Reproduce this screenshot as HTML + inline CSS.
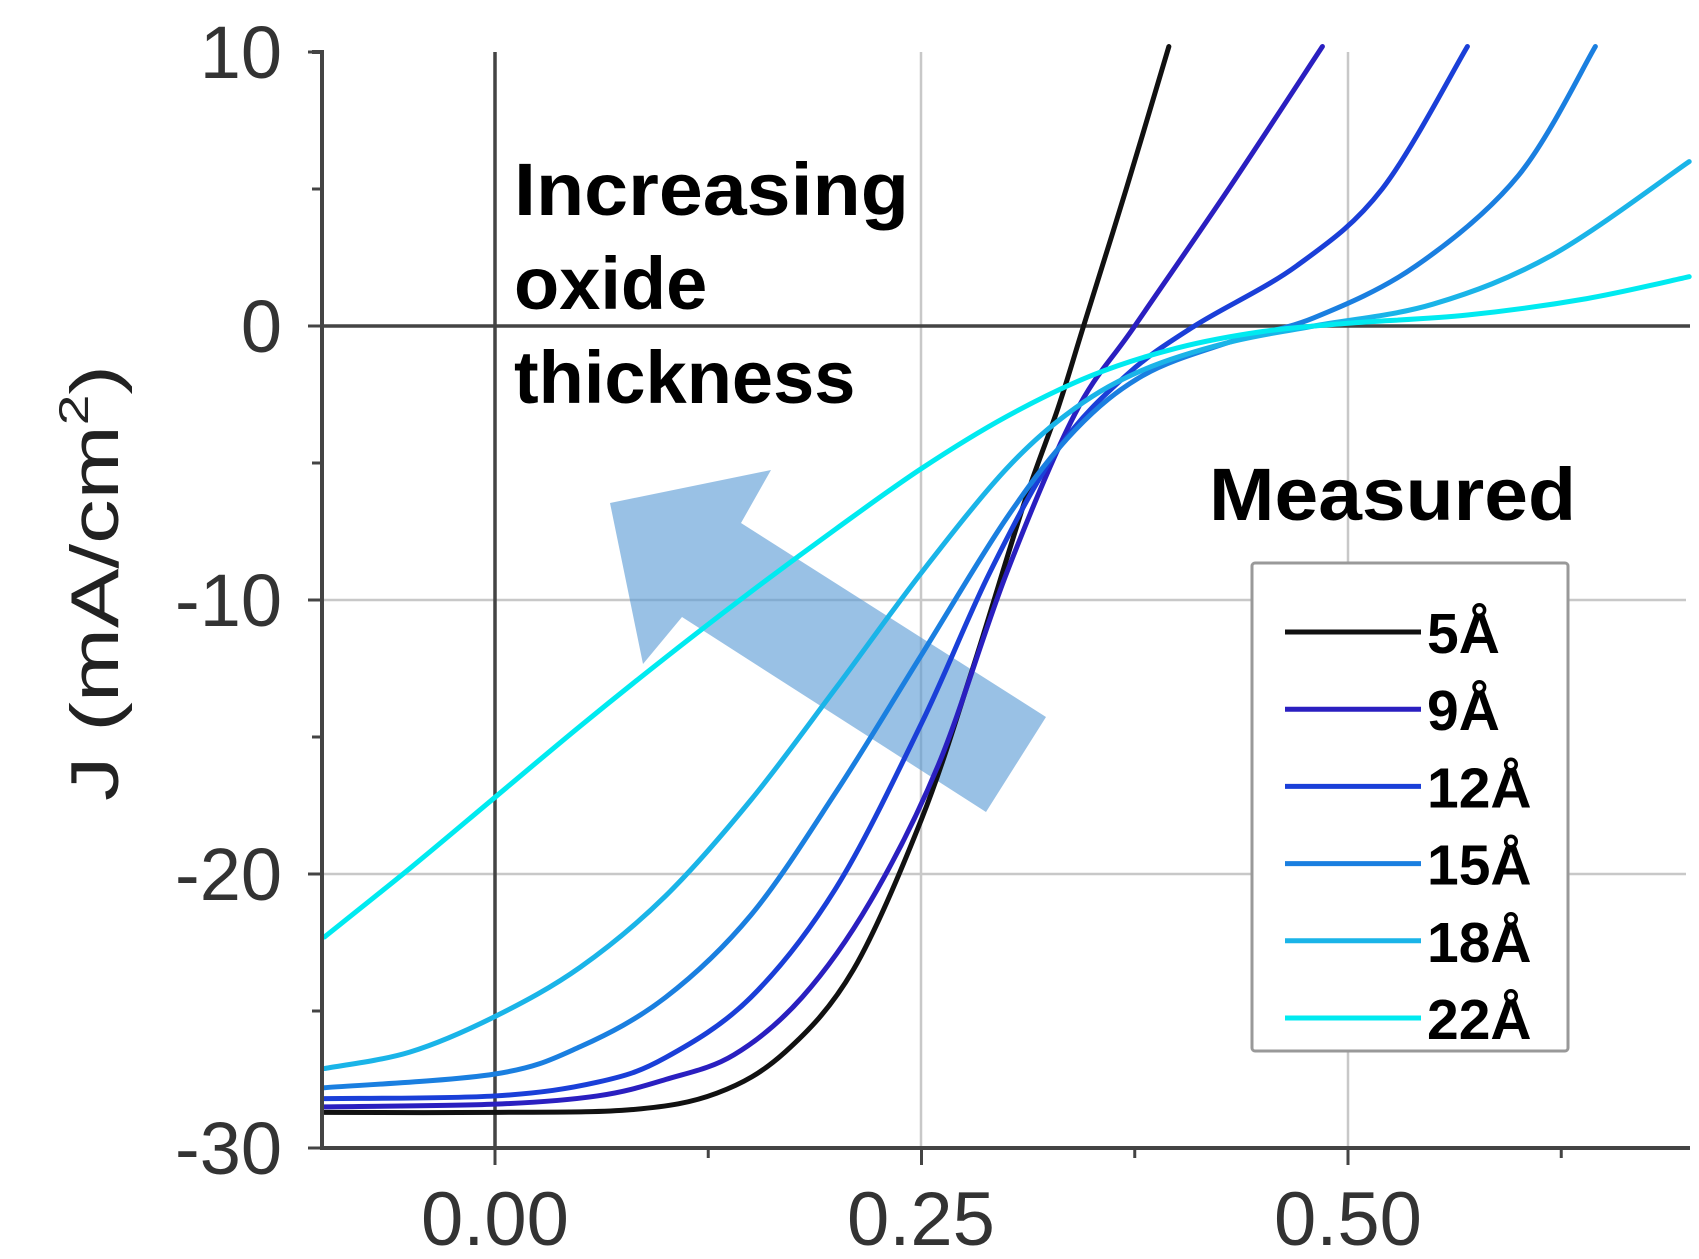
<!DOCTYPE html>
<html><head><meta charset="utf-8"><style>
html,body{margin:0;padding:0;background:#fff;}
svg{display:block;}
</style></head><body>
<svg id="s" width="1699" height="1259" viewBox="0 0 1699 1259" xmlns="http://www.w3.org/2000/svg" font-family="Liberation Sans, sans-serif">
<rect width="1699" height="1259" fill="#fff"/>
<g id="grid" stroke="#c8c8c8" stroke-width="2.5">
<line x1="921" y1="52" x2="921" y2="1148"/>
<line x1="1348" y1="52" x2="1348" y2="1148"/>
<line x1="322" y1="600" x2="1686" y2="600"/>
<line x1="322" y1="874" x2="1686" y2="874"/>
</g>
<g stroke="#444" stroke-width="3.5">
<line x1="495" y1="52" x2="495" y2="1148"/>
<line x1="322" y1="326" x2="1690" y2="326"/>
</g>
<polygon points="610,503 771,470 741,523 1046,717 986,812 682,617 643,664" fill="#5b9bd5" opacity="0.62"/>
<g id="curves" fill="none" stroke-width="5" stroke-linecap="round" stroke-linejoin="round"></g>
<g stroke="#444" stroke-width="4" fill="none">
<polyline points="312,52 322,52 322,1148 1690,1148"/>
</g>
<g id="ticks" stroke="#444" stroke-width="3"></g>
<g font-size="74" fill="#333" text-anchor="end">
<text x="282" y="78">10</text>
<text x="282" y="352">0</text>
<text x="282" y="626">-10</text>
<text x="282" y="900">-20</text>
<text x="282" y="1174">-30</text>
</g>
<g font-size="76" fill="#333" text-anchor="middle">
<text x="495" y="1245">0.00</text>
<text x="921" y="1245">0.25</text>
<text x="1348" y="1245">0.50</text>
</g>
<text transform="translate(118,583) rotate(-90)" font-size="68" fill="#222" text-anchor="middle" textLength="436" lengthAdjust="spacingAndGlyphs">J (mA/cm<tspan font-size="42" dy="-30">2</tspan><tspan dy="30">)</tspan></text>
<g font-size="74" font-weight="bold" fill="#000">
<text x="514" y="215" textLength="395" lengthAdjust="spacingAndGlyphs">Increasing</text>
<text x="514" y="309">oxide</text>
<text x="514" y="403">thickness</text>
<text x="1209" y="520" textLength="367" lengthAdjust="spacingAndGlyphs">Measured</text>
</g>
<rect x="1252" y="563" width="316" height="488" fill="#fff" stroke="#999" stroke-width="3" rx="3"/>
<g id="leg"></g>
</svg>
<script>
var X=function(v){return 495+v*1706;}, Y=function(j){return 326-j*27.4;};
var data=[
["#111111","5Å",[[-0.1,-28.7],[0,-28.7],[0.08,-28.6],[0.13,-28],[0.17,-26.5],[0.21,-23.5],[0.25,-18],[0.28,-12.5],[0.31,-6.5],[0.33,-3],[0.345,0],[0.37,5],[0.395,10.2]]],
["#2a1fc0","9Å",[[-0.1,-28.5],[0,-28.4],[0.06,-28.1],[0.1,-27.5],[0.14,-26.6],[0.18,-24.5],[0.22,-21],[0.26,-16],[0.3,-9],[0.34,-3.2],[0.375,0],[0.43,5],[0.485,10.2]]],
["#1a3fd8","12Å",[[-0.1,-28.2],[0,-28.1],[0.06,-27.6],[0.1,-26.7],[0.15,-24.5],[0.2,-20.5],[0.25,-14.5],[0.29,-9],[0.33,-4.5],[0.37,-1.8],[0.41,0],[0.47,2.2],[0.52,5],[0.57,10.2]]],
["#1a7fe0","15Å",[[-0.1,-27.8],[0,-27.3],[0.05,-26.3],[0.1,-24.5],[0.15,-21.5],[0.2,-17],[0.25,-12],[0.3,-7],[0.34,-3.8],[0.38,-1.8],[0.43,-0.6],[0.48,0.3],[0.54,2.2],[0.6,5.5],[0.645,10.2]]],
["#1ab4e8","18Å",[[-0.1,-27.1],[-0.05,-26.5],[0,-25.2],[0.05,-23.4],[0.1,-20.8],[0.15,-17.3],[0.2,-13.2],[0.25,-9],[0.3,-5.2],[0.34,-3],[0.38,-1.6],[0.43,-0.6],[0.48,0],[0.55,0.8],[0.62,2.6],[0.7,6]]],
["#00eaf0","22Å",[[-0.1,-22.3],[-0.05,-19.8],[0,-17.2],[0.05,-14.6],[0.1,-12.1],[0.15,-9.7],[0.2,-7.4],[0.25,-5.2],[0.3,-3.3],[0.35,-1.8],[0.4,-0.8],[0.45,-0.2],[0.5,0.1],[0.57,0.4],[0.64,1.0],[0.7,1.8]]]
];
function path(pts){
 var p=pts.map(function(a){return [X(a[0]),Y(a[1])];});
 var d="M"+p[0][0]+","+p[0][1];
 for(var i=0;i<p.length-1;i++){
  var p0=p[i-1]||p[i],p1=p[i],p2=p[i+1],p3=p[i+2]||p2;
  var c1=[p1[0]+(p2[0]-p0[0])/6,p1[1]+(p2[1]-p0[1])/6];
  var c2=[p2[0]-(p3[0]-p1[0])/6,p2[1]-(p3[1]-p1[1])/6];
  d+=" C"+c1+" "+c2+" "+p2;
 }
 return d;
}
var ns="http://www.w3.org/2000/svg";
var g=document.getElementById("curves"),lg=document.getElementById("leg");
data.forEach(function(s,i){
 var e=document.createElementNS(ns,"path");e.setAttribute("d",path(s[2]));e.setAttribute("stroke",s[0]);g.appendChild(e);
 var y=632+i*77.2;
 var l=document.createElementNS(ns,"line");l.setAttribute("x1",1285);l.setAttribute("x2",1421);l.setAttribute("y1",y);l.setAttribute("y2",y);
 l.setAttribute("stroke",s[0]);l.setAttribute("stroke-width",5);lg.appendChild(l);
 var t=document.createElementNS(ns,"text");t.setAttribute("x",1427);t.setAttribute("y",y+21);t.setAttribute("font-size",57);
 t.setAttribute("font-weight","bold");t.textContent=s[1];lg.appendChild(t);
});
var tk=document.getElementById("ticks"),h="";
for(var j=-30;j<=10;j+=5){var yy=Y(j);h+='<line x1="'+(j%10==0?308:312)+'" x2="322" y1="'+yy+'" y2="'+yy+'"/>';}
for(var v=0;v<=0.7;v+=0.125){var xx=X(v);h+='<line x1="'+xx+'" x2="'+xx+'" y1="1148" y2="'+(Math.abs(v*4-Math.round(v*4))<0.01?1165:1158)+'"/>';}
tk.innerHTML=h;
</script>
</body></html>
